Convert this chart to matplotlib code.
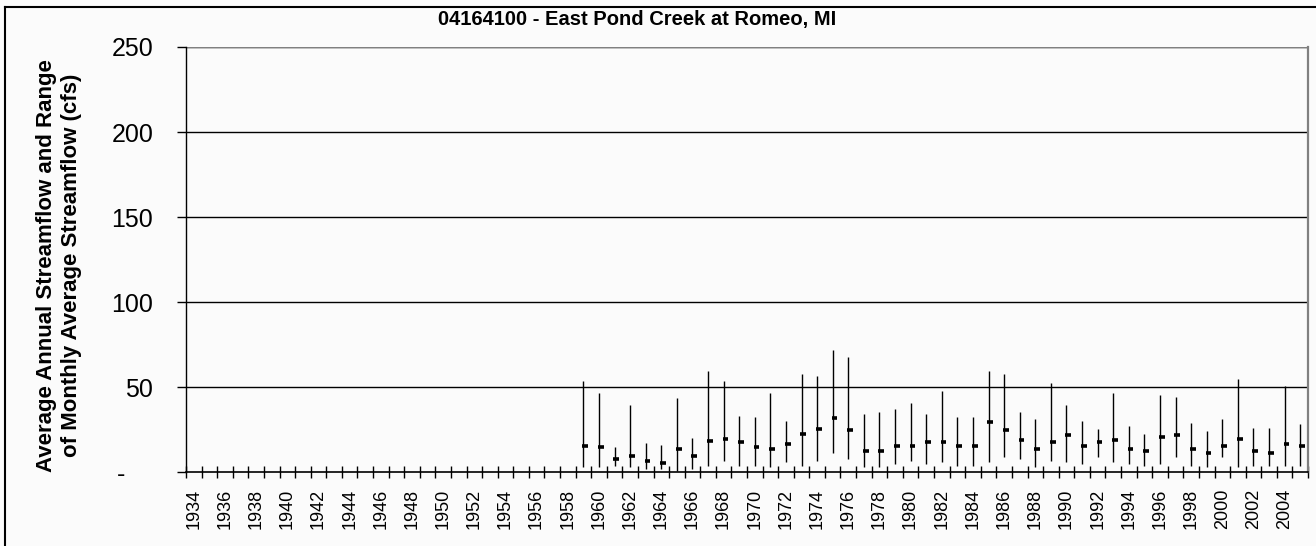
import matplotlib
matplotlib.use("Agg")
import matplotlib.pyplot as plt
from matplotlib.lines import Line2D
import numpy as np

plt.rcParams['font.family'] = ['Liberation Sans', 'DejaVu Sans']

years = list(range(1934, 2006))
data_years = list(range(1959, 2006))
max_flow = [53.7, 46.6, 15.1, 39.4, 17.1, 16.1, 43.5, 20.2, 59.6, 53.7,
            33.3, 32.3, 46.6, 30.4, 57.6, 56.6, 71.9, 67.8, 34.3, 35.5,
            37.4, 40.6, 34.3, 47.6, 32.3, 32.3, 59.6, 57.6, 35.5, 31.4,
            52.7, 39.4, 30.4, 25.3, 46.6, 27.2, 22.3, 45.5, 44.5, 29.2,
            24.3, 31.4, 54.7, 26.1, 26.1, 50.6, 28.2]
min_flow = [2.9, 2.9, 3.9, 2.9, 1.9, 1.9, 0.9, 1.9, 3.9, 6.8,
            3.9, 3.9, 2.9, 5.9, 3.9, 6.8, 11.2, 7.8, 2.9, 2.9,
            4.9, 6.8, 4.9, 5.9, 3.9, 3.9, 5.9, 8.8, 7.8, 2.9,
            6.8, 5.9, 4.9, 8.8, 5.9, 4.9, 3.9, 4.9, 8.8, 3.9,
            2.9, 8.8, 2.9, 3.9, 3.9, 3.9, 3.9]
avg_flow = [15.5, 14.7, 7.6, 9.6, 6.6, 5.5, 13.7, 9.6, 18.6, 19.6,
            17.6, 14.7, 13.7, 16.6, 22.7, 25.7, 31.8, 24.7, 12.5, 12.5,
            15.6, 15.6, 17.6, 17.6, 15.6, 15.6, 29.8, 24.7, 18.8, 13.7,
            17.6, 21.8, 15.6, 17.6, 18.8, 13.7, 12.5, 20.6, 21.8, 13.7,
            11.5, 15.6, 19.6, 12.5, 11.5, 16.6, 15.6]
y_ticks = [0, 50, 100, 150, 200, 250]
y_tick_labels = ['-    ', '50', '100', '150', '200', '250']
title = '04164100 - East Pond Creek at Romeo, MI'
ylabel = 'Average Annual Streamflow and Range\nof Monthly Average Streamflow (cfs)'

W, H = 1316, 546
bg = '#fbfbfb'
fig = plt.figure(figsize=(W / 100, H / 100), dpi=100, facecolor=bg)
ax = fig.add_axes([186 / W, 1 - 472.3 / H, (1308 - 186) / W, (472.3 - 47) / H])
ax.set_facecolor(bg)

pos = {y: i for i, y in enumerate(years)}
xs = np.array([pos[y] for y in data_years])

ax.vlines(xs, min_flow, max_flow, colors='black', linewidth=1.0, zorder=3)
ax.hlines(avg_flow, xs - 0.07, xs + 0.30, colors='black', linewidth=2.6, zorder=4)

ax.set_xlim(-0.5, len(years) - 0.5)
ax.set_ylim(0, 250)

for v in y_ticks[1:]:
    ax.axhline(v, color='black', linewidth=1.0, zorder=1)
ax.axhline(250, color='#808080', linewidth=1.6, zorder=2)

ax.spines['top'].set_visible(False)
ax.spines['right'].set_color('#808080')
ax.spines['right'].set_linewidth(1.6)
ax.spines['left'].set_color('black')
ax.spines['bottom'].set_color('black')
ax.spines['left'].set_linewidth(1.0)
ax.spines['bottom'].set_linewidth(1.2)

ax.set_yticks(y_ticks)
ax.set_yticklabels(y_tick_labels, fontsize=18)
ax.tick_params(axis='y', direction='out', length=6.5, width=1.0, pad=17)

label_pos = [pos[y] for y in years if y % 2 == 0]
ax.set_xticks(label_pos)
ax.set_xticklabels([str(y) for y in years if y % 2 == 0], rotation=90, fontsize=13)
ax.tick_params(axis='x', which='major', length=0, pad=12)
ax.set_xticks(np.arange(-0.5, len(years), 1.0), minor=True)
ax.tick_params(axis='x', which='minor', direction='inout', length=8, width=1.0)

fig.text(637 / W, 1 - 19 / H, title, ha='center', va='center',
         fontsize=14.5, fontweight='bold')
fig.text(59 / W, 1 - 265.5 / H, ylabel, ha='center', va='center', rotation=90,
         fontsize=16, fontweight='bold', linespacing=1.25, multialignment='center')

fig.add_artist(Line2D([5 / W, 5 / W], [0, 1 - 7 / H], transform=fig.transFigure,
                      color='black', linewidth=1.5))
fig.add_artist(Line2D([5 / W, 1], [1 - 7 / H, 1 - 7 / H], transform=fig.transFigure,
                      color='black', linewidth=1.5))

fig.savefig('out.png', dpi=100, facecolor=bg)
